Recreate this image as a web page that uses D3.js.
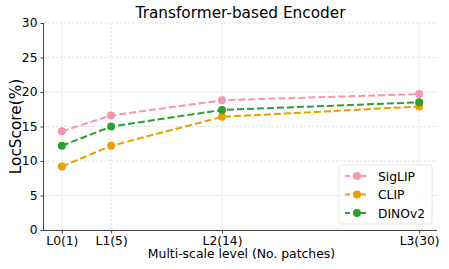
<!DOCTYPE html>
<html><head><meta charset="utf-8">
<script src="https://cdn.jsdelivr.net/npm/d3@7/dist/d3.min.js"></script>
<style>body{margin:0;background:#fff}svg{display:block}text{font-family:"DejaVu Sans",sans-serif}</style>
</head><body><svg id="c" width="449" height="269"></svg>
<script>
const levels = [1, 5, 14, 30];
const levelLabels = ["L0(1)", "L1(5)", "L2(14)", "L3(30)"];
const siglip = [14.3, 16.6, 18.8, 19.7];
const clip = [9.2, 12.2, 16.4, 17.9];
const dinov2 = [12.2, 15.0, 17.4, 18.5];
const yTicks = [0, 5, 10, 15, 20, 25, 30];
const seriesNames = ["SigLIP", "CLIP", "DINOv2"];
const seriesColors = ["#f595b0", "#e6a000", "#2ca02c"];
const series = [siglip, clip, dinov2];

const svg = d3.select("#c");
const m = {l: 44, r: 437, t: 23, b: 230};
const x = d3.scaleLinear().domain([-0.45, 31.45]).range([m.l, m.r]);
const y = d3.scaleLinear().domain([0, 30]).range([m.b, m.t]);

// grid
svg.append("g").selectAll("line").data(yTicks).join("line")
  .attr("x1", m.l).attr("x2", m.r).attr("y1", d => y(d)).attr("y2", d => y(d))
  .attr("stroke", "#d0d0d0").attr("stroke-width", 0.6).attr("stroke-dasharray", "2.5,1.5");
svg.append("g").selectAll("line").data(levels).join("line")
  .attr("y1", m.t).attr("y2", m.b).attr("x1", d => x(d)).attr("x2", d => x(d))
  .attr("stroke", "#d0d0d0").attr("stroke-width", 0.6).attr("stroke-dasharray", "2.5,1.5");

// axes
const xa = svg.append("g").attr("transform", `translate(0,${m.b})`)
  .call(d3.axisBottom(x).tickValues(levels).tickFormat((d, i) => levelLabels[i]).tickSize(3.5).tickPadding(2.5));
const ya = svg.append("g").attr("transform", `translate(${m.l},0)`)
  .call(d3.axisLeft(y).tickValues(yTicks).tickSize(3.5).tickPadding(3));
[xa, ya].forEach(a => {
  a.select(".domain").attr("stroke", "#444").attr("stroke-width", 1);
  a.selectAll(".tick line").attr("stroke", "#444");
  a.selectAll("text").attr("font-size", 12.3).attr("fill", "#000").attr("font-family", "DejaVu Sans");
});
xa.select(".domain").attr("d", `M${m.l},0.5H${m.r}`);
ya.select(".domain").attr("d", `M-0.5,${m.b}V${m.t}`);

// lines
const line = d3.line().x((d, i) => x(levels[i])).y(d => y(d));
series.forEach((s, k) => {
  svg.append("path").datum(s).attr("d", line).attr("fill", "none")
    .attr("stroke", seriesColors[k]).attr("stroke-width", 2).attr("stroke-dasharray", "7,3");
  svg.append("g").selectAll("circle").data(s).join("circle")
    .attr("cx", (d, i) => x(levels[i])).attr("cy", d => y(d)).attr("r", 4)
    .attr("fill", seriesColors[k]);
});

// title and labels
svg.append("text").attr("x", (m.l + m.r) / 2).attr("y", 17.5).attr("text-anchor", "middle")
  .attr("font-size", 15.3).text("Transformer-based Encoder");
svg.append("text").attr("transform", `translate(20.5,${(m.t + m.b) / 2}) rotate(-90)`)
  .attr("text-anchor", "middle").attr("font-size", 15.3).text("LocScore(%)");
svg.append("text").attr("x", (m.l + m.r) / 2 + 1).attr("y", 258.3).attr("text-anchor", "middle")
  .attr("font-size", 12.4).text("Multi-scale level (No. patches)");

// legend
const lg = svg.append("g");
lg.append("rect").attr("x", 339).attr("y", 165).attr("width", 93).attr("height", 59).attr("rx", 2.5)
  .attr("fill", "#fff").attr("fill-opacity", 0.8).attr("stroke", "#e0e0e0").attr("stroke-width", 0.8);
seriesNames.forEach((n, k) => {
  const yy = 176 + k * 18.5;
  lg.append("line").attr("x1", 345).attr("x2", 369).attr("y1", yy).attr("y2", yy)
    .attr("stroke", seriesColors[k]).attr("stroke-width", 2).attr("stroke-dasharray", "5,3");
  lg.append("circle").attr("cx", 357).attr("cy", yy).attr("r", 4).attr("fill", seriesColors[k]);
  lg.append("text").attr("x", 378).attr("y", yy + 4.5).attr("font-size", 12.3).text(n);
});
</script></body></html>
